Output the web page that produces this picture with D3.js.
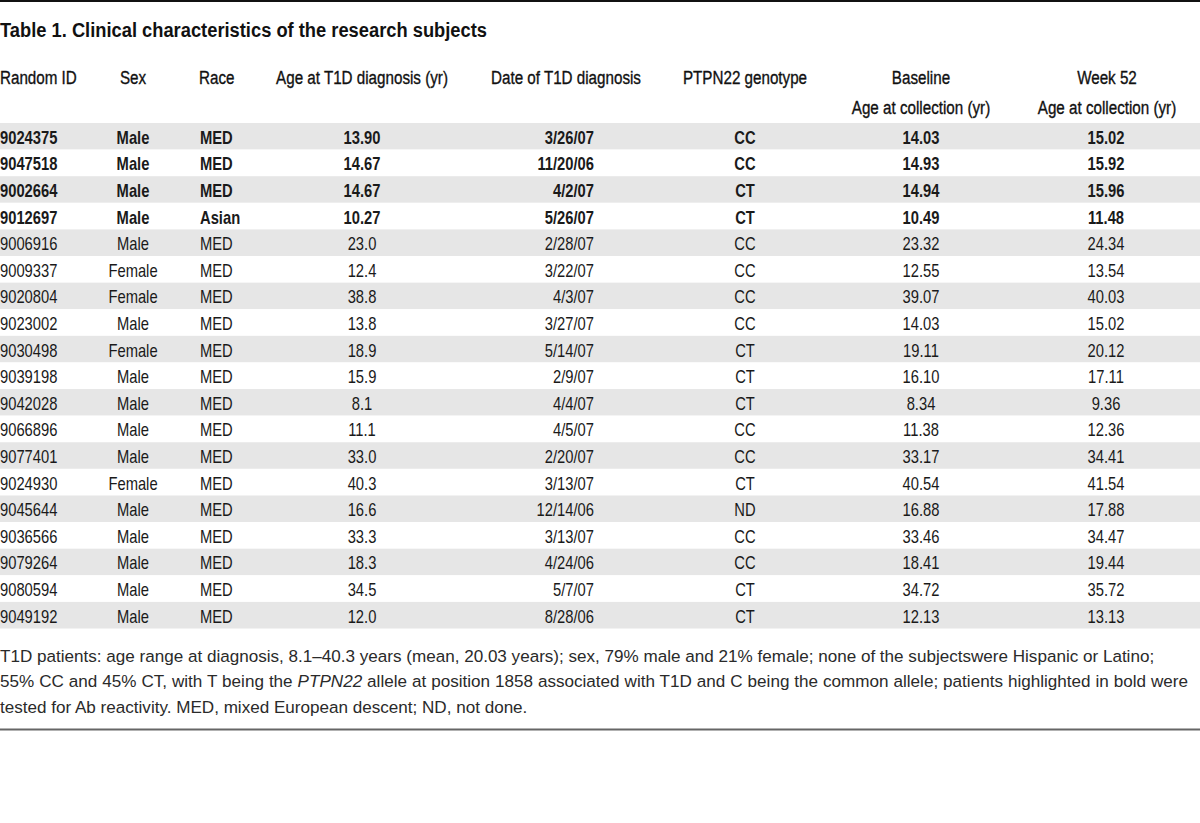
<!DOCTYPE html>
<html>
<head>
<meta charset="utf-8">
<script src="https://cdn.jsdelivr.net/npm/d3@7"></script>
<style>
  html, body { margin: 0; padding: 0; background: #fff; }
  svg { display: block; }
</style>
</head>
<body>
<svg id="chart" width="1200" height="823"></svg>
<script>
// ---- data ----
const title = "Table 1. Clinical characteristics of the research subjects";
const headers = ["Random ID", "Sex", "Race", "Age at T1D diagnosis (yr)", "Date of T1D diagnosis", "PTPN22 genotype", "Baseline", "Week 52"];
const subHeaders = ["", "", "", "", "", "", "Age at collection (yr)", "Age at collection (yr)"];
const ids = ["9024375","9047518","9002664","9012697","9006916","9009337","9020804","9023002","9030498","9039198","9042028","9066896","9077401","9024930","9045644","9036566","9079264","9080594","9049192"];
const sexes = ["Male","Male","Male","Male","Male","Female","Female","Male","Female","Male","Male","Male","Male","Female","Male","Male","Male","Male","Male"];
const races = ["MED","MED","MED","Asian","MED","MED","MED","MED","MED","MED","MED","MED","MED","MED","MED","MED","MED","MED","MED"];
const ageDiagnosis = ["13.90","14.67","14.67","10.27","23.0","12.4","38.8","13.8","18.9","15.9","8.1","11.1","33.0","40.3","16.6","33.3","18.3","34.5","12.0"];
const dateDiagnosis = ["3/26/07","11/20/06","4/2/07","5/26/07","2/28/07","3/22/07","4/3/07","3/27/07","5/14/07","2/9/07","4/4/07","4/5/07","2/20/07","3/13/07","12/14/06","3/13/07","4/24/06","5/7/07","8/28/06"];
const genotypes = ["CC","CC","CT","CT","CC","CC","CC","CC","CT","CT","CT","CC","CC","CT","ND","CC","CC","CT","CT"];
const baselineAge = ["14.03","14.93","14.94","10.49","23.32","12.55","39.07","14.03","19.11","16.10","8.34","11.38","33.17","40.54","16.88","33.46","18.41","34.72","12.13"];
const week52Age = ["15.02","15.92","15.96","11.48","24.34","13.54","40.03","15.02","20.12","17.11","9.36","12.36","34.41","41.54","17.88","34.47","19.44","35.72","13.13"];
const boldIds = ["9024375","9047518","9002664","9012697"];
const footnoteLines = [
  [{t:"T1D patients: age range at diagnosis, 8.1–40.3 years (mean, 20.03 years); sex, 79% male and 21% female; none of the subjectswere Hispanic or Latino;"}],
  [{t:"55% CC and 45% CT, with T being the "},{t:"PTPN22", i:true},{t:" allele at position 1858 associated with T1D and C being the common allele; patients highlighted in bold were"}],
  [{t:"tested for Ab reactivity. MED, mixed European descent; ND, not done."}]
];

// ---- layout ----
const W = 1200;
const font = "'Liberation Sans', Arial, sans-serif";
const narrow = 0.82;      // horizontal squeeze to imitate a condensed face
const svg = d3.select("#chart");

const colX = [0, 133, 200, 362, 594, 745, 921, 1106];
const colAnchor = ["start","middle","start","middle","end","middle","middle","middle"];
const headerX = [0, 133, 199, 362, 491, 745, 921, 1107];
const headerAnchor = ["start","middle","start","middle","start","middle","middle","middle"];

// rules
svg.append("line").attr("x1",0).attr("x2",W).attr("y1",1).attr("y2",1)
  .attr("stroke","#111").attr("stroke-width",2);
svg.append("line").attr("x1",0).attr("x2",W).attr("y1",729.5).attr("y2",729.5)
  .attr("stroke","#666").attr("stroke-width",2);

// title
svg.append("text").attr("x",0).attr("y",37)
  .attr("font-family", font).attr("font-weight","bold").attr("font-size",20)
  .attr("fill","#111")
  .attr("textLength",487).attr("lengthAdjust","spacingAndGlyphs")
  .text(title);

// header
const hg = svg.append("g").attr("font-family", font).attr("font-size",19)
  .attr("fill","#111").attr("stroke","#111").attr("stroke-width",0.35);
hg.selectAll("text.h1").data(headers).join("text").attr("class","h1")
  .attr("transform",(d,i)=>`translate(${headerX[i]},84) scale(0.8,1)`)
  .attr("text-anchor",(d,i)=>headerAnchor[i])
  .text(d=>d);
hg.selectAll("text.h2").data(subHeaders).join("text").attr("class","h2")
  .attr("transform",(d,i)=>`translate(${headerX[i]},114) scale(0.8,1)`)
  .attr("text-anchor",(d,i)=>headerAnchor[i])
  .text(d=>d);

// rows
const y = d3.scaleBand().domain(d3.range(ids.length)).range([123, 628.5]).padding(0);
const rows = ids.map((id,i)=>[id, sexes[i], races[i], ageDiagnosis[i], dateDiagnosis[i], genotypes[i], baselineAge[i], week52Age[i]]);

const rg = svg.append("g");
rg.selectAll("rect").data(rows).join("rect")
  .attr("x",0).attr("width",W)
  .attr("y",(d,i)=>y(i)).attr("height",y.bandwidth())
  .attr("fill",(d,i)=> i%2===0 ? "#e6e6e6" : "#ffffff");

const rowG = rg.selectAll("g.row").data(rows).join("g").attr("class","row")
  .attr("transform",(d,i)=>`translate(0,${y(i) + y.bandwidth()/2 + 7.5})`)
  .attr("font-family", font).attr("font-size",18).attr("fill","#1a1a1a")
  .attr("font-weight", d => boldIds.includes(d[0]) ? "bold" : "normal");
rowG.selectAll("text").data(d=>d).join("text")
  .attr("transform",(d,i)=>`translate(${colX[i]},0) scale(${narrow},1)`)
  .attr("text-anchor",(d,i)=>colAnchor[i])
  .text(d=>d);

// footnote: first line sets the horizontal scale; second line lightly justified
const fnLine1Right = 1155;
const fnLine2Right = 1188;
const fg = svg.append("g").attr("font-family", font).attr("font-size",17).attr("fill","#2a2a2a");
const fnTexts = footnoteLines.map((parts, li) => {
  const t = fg.append("text").attr("x",0).attr("y",662 + li*25.5);
  parts.forEach(p => t.append("tspan").attr("font-style", p.i ? "italic" : "normal").text(p.t));
  return t;
});
const sx = fnLine1Right / fnTexts[0].node().getComputedTextLength();
fg.attr("transform", `scale(${sx},1)`);
{
  const t = fnTexts[1];
  const nat = t.node().getComputedTextLength();
  const txt = footnoteLines[1].map(p=>p.t).join("");
  const spaces = (txt.match(/ /g) || []).length;
  const extra = (fnLine2Right / sx - nat) / spaces;
  t.attr("word-spacing", Math.max(-2, Math.min(3, extra)));
}
</script>
</body>
</html>
